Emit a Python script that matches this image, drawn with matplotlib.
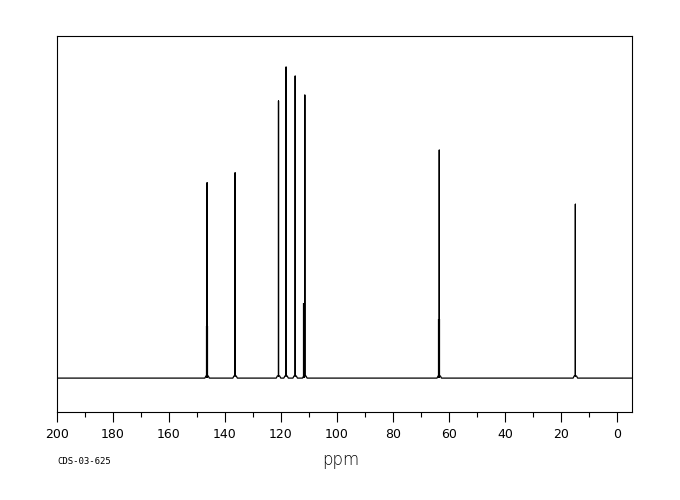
import numpy as np
import matplotlib
matplotlib.use('Agg')
import matplotlib.pyplot as plt

# peak positions (ppm) and heights (tallest = 100)
peak_ppm    = [146.4, 136.4, 120.9, 118.2, 114.95, 111.5, 63.5, 14.9]
peak_height = [62.8, 66.0, 89.1, 100.0, 97.1, 91.0, 73.3, 55.9]
# lower "thick" part of a few lines (shoulder next to the main line)
shoulder_ppm    = [146.6, 111.7, 63.7]
shoulder_height = [16.8, 24.1, 19.0]

x_ticks = list(range(0, 201, 20))
code_text = 'CDS-03-625'


def build_trace():
    # stick spectrum: flat baseline with a small foot under each line
    xs = [205.0]
    ys = [0.0]
    w = 0.8
    foot = 0.7
    for p, h in sorted(zip(peak_ppm, peak_height), reverse=True):
        xs += [p + w, p + w / 2, p, p, p, p - w / 2, p - w]
        ys += [0.0, foot, foot, h, foot, foot, 0.0]
    xs.append(-10.0)
    ys.append(0.0)
    return xs, ys


def main():
    fig = plt.figure(figsize=(6.8, 5.0), dpi=100)
    ax = fig.add_axes([0.0838, 0.176, 0.8453, 0.752])

    xs, ys = build_trace()
    ax.plot(xs, ys, color='black', linewidth=0.9)
    ax.vlines(shoulder_ppm, 0, shoulder_height, color='black', linewidth=1.6)

    ax.set_xlim(200, -5.25)
    ax.set_ylim(-10.9, 110.0)

    ax.set_xticks(x_ticks)
    ax.set_xticks(range(10, 200, 20), minor=True)
    ax.set_xticklabels([str(t) for t in x_ticks], fontsize=9)
    ax.tick_params(axis='x', which='major', direction='out', length=7.2,
                   width=0.8, pad=4)
    ax.tick_params(axis='x', which='minor', direction='out', length=3.6,
                   width=0.8)
    ax.set_yticks([])
    for s in ax.spines.values():
        s.set_linewidth(0.8)

    fig.text(341 / 680, 1 - 460 / 500, 'ppm', fontsize=12,
             ha='center', va='center', fontweight='light')
    fig.text(57 / 680, 1 - 461 / 500, code_text, fontsize=6.5,
             family='DejaVu Sans Mono', ha='left', va='center')

    fig.savefig('out.png', dpi=100)


if __name__ == "__main__":
    main()
